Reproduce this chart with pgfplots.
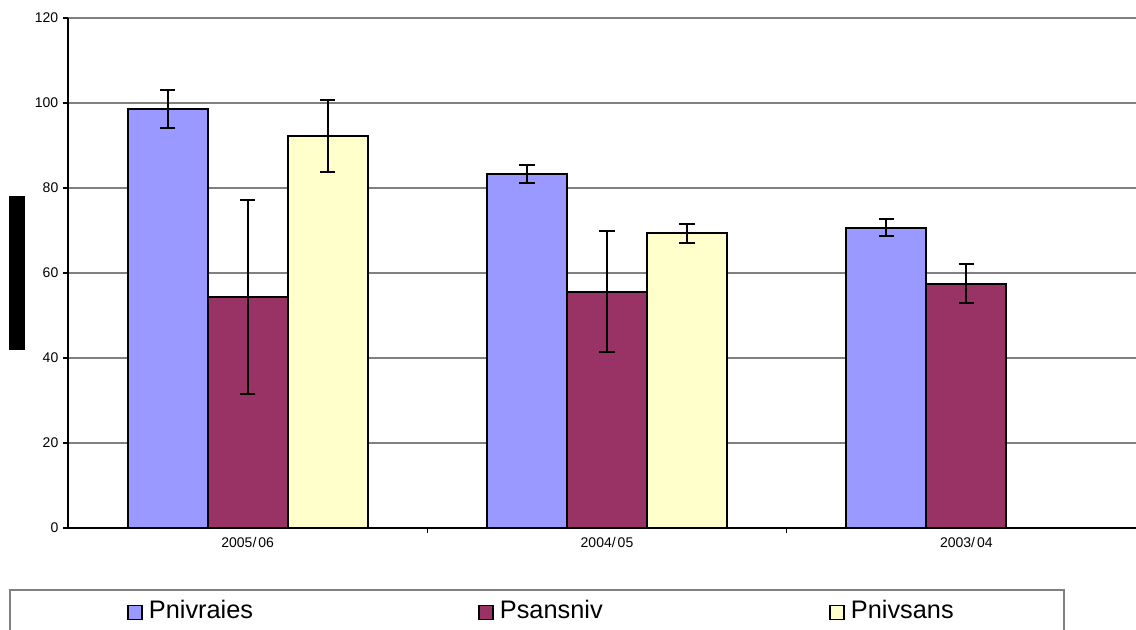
\documentclass[border=0pt]{standalone}
\usepackage{pgfplots}
\pgfplotsset{compat=1.18}
\usepackage{fontspec}
\setmainfont{Liberation Sans}
\definecolor{cA}{HTML}{9999FF}
\definecolor{cB}{HTML}{993366}
\definecolor{cC}{HTML}{FFFFCC}
\definecolor{gridgray}{HTML}{808080}
\begin{document}
\begin{tikzpicture}
\path[use as bounding box] (0,0) rectangle (852pt,-472.5pt);
\clip (0,0) rectangle (852pt,-472.5pt);
\fill[black] (6.75pt,-147pt) rectangle (18.75pt,-262.5pt);
\draw[gridgray, line width=1.1pt] (7.5pt,-490pt) |- (798pt,-442.5pt) -- (798pt,-490pt);
\begin{axis}[
  at={(51pt,-396pt)}, anchor=south west,
  scale only axis, width=808.5pt, height=382.5pt,
  xmin=-0.5, xmax=2.5, ymin=0, ymax=120,
  axis x line*=bottom, axis y line*=left,
  axis line style={line width=1.3pt, black},
  ytick={0,20,...,120}, ymajorgrids, grid style={gridgray, line width=0.9pt},
  xtick={0,1,2}, xticklabels={2005/\kern1.5pt06,2004/\kern1.5pt05,2003/\kern1.5pt04},
  major x tick style={draw=none},
  minor xtick={0.5,1.5},
  tick align=outside, major tick length=3.75pt, minor tick length=3.75pt,
  tick style={black, line width=0.8pt},
  ticklabel style={font=\fontsize{10.5}{12}\selectfont},
  /pgf/number format/assume math mode=true,
  ybar=0pt, bar width=60pt,
  legend columns=3,
  legend style={at={(0.0547,-0.1608)}, anchor=west, draw=none, fill=none, inner sep=0pt,
    font=\fontsize{19}{22}\selectfont,
    nodes={inner sep=2pt, text width=245pt, align=left},
    /tikz/every odd column/.append style={column sep=2.75pt}},
  legend image code/.code={\draw[#1, line width=1pt] (0pt,-7pt) rectangle (10.5pt,3.5pt);},
]
\addplot[fill=cA, draw=black, line width=1.5pt, error bars/.cd, y dir=both, y explicit,
  error bar style={line width=1.5pt, black}, error mark options={rotate=90, mark size=5.8pt, line width=1.5pt, black}]
  coordinates {(0,98.5) +- (0,4.5) (1,83.3) +- (0,2.2) (2,70.7) +- (0,1.9)};
\addlegendentry{Pnivraies}
\addplot[fill=cB, draw=black, line width=1.5pt, error bars/.cd, y dir=both, y explicit,
  error bar style={line width=1.5pt, black}, error mark options={rotate=90, mark size=5.8pt, line width=1.5pt, black}]
  coordinates {(0,54.3) +- (0,22.8) (1,55.6) +- (0,14.2) (2,57.5) +- (0,4.5)};
\addlegendentry{Psansniv}
\addplot[fill=cC, draw=black, line width=1.5pt, error bars/.cd, y dir=both, y explicit,
  error bar style={line width=1.5pt, black}, error mark options={rotate=90, mark size=5.8pt, line width=1.5pt, black}]
  coordinates {(0,92.3) +- (0,8.5) (1,69.3) +- (0,2.3)};
\addlegendentry{Pnivsans}
\end{axis}
\end{tikzpicture}
\end{document}
